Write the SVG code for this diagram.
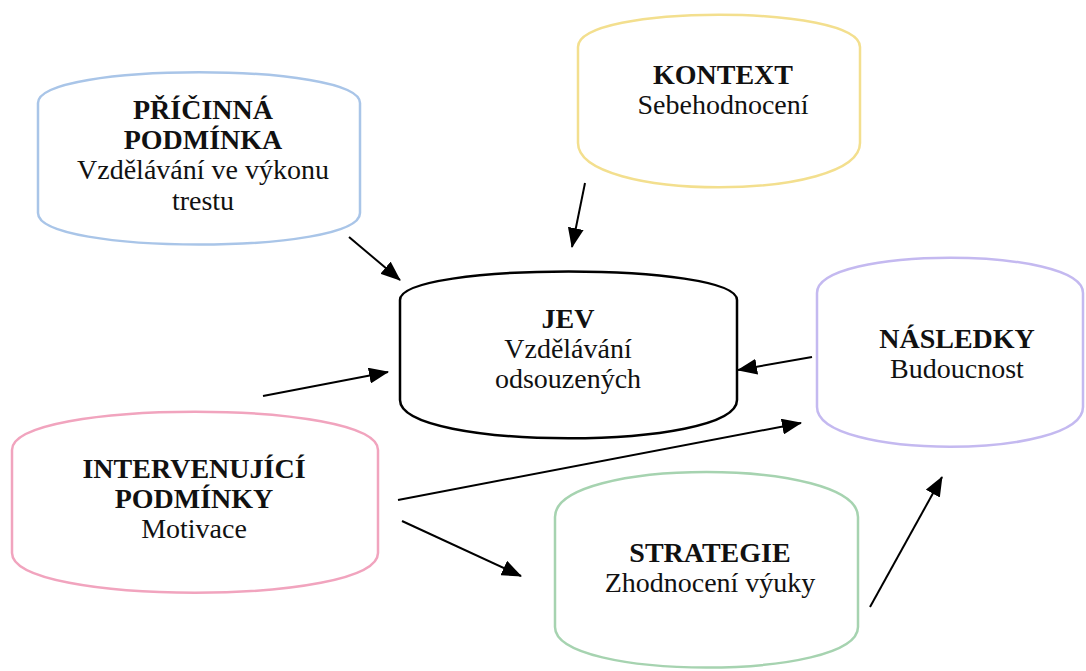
<svg xmlns="http://www.w3.org/2000/svg" width="1086" height="671" viewBox="0 0 1086 671">
<defs>
<marker id="ah" viewBox="0 0 20 16" refX="19" refY="8" markerWidth="20" markerHeight="16" markerUnits="userSpaceOnUse" orient="auto">
<path d="M0,0 L20,8 L0,16 Z" fill="#000"/>
</marker>
<style>
.n{fill:#fff;stroke-width:2.5}
.t{font-family:"Liberation Serif","Times New Roman",serif;font-size:28px;fill:#111;text-anchor:middle}
.b{font-weight:bold}
.c line{stroke:#000;stroke-width:2}
</style>
</defs>
<rect width="1086" height="671" fill="#fff"/>
<g id="pricinna">
<path class="n" stroke="#a9c5e8" d="M38,103 C38,62 360,62 360,103 L360,213 C360,255 38,255 38,213 Z"/>
<text class="t b" x="203" y="119">PŘÍČINNÁ</text>
<text class="t b" x="203" y="149">PODMÍNKA</text>
<text class="t" x="203" y="179">Vzdělávání ve výkonu</text>
<text class="t" x="203" y="210">trestu</text>
</g>
<g id="kontext">
<path class="n" stroke="#f3df8e" d="M578,47 C578,4 860,4 860,47 L860,143 C860,202 578,202 578,143 Z"/>
<text class="t b" x="723" y="84">KONTEXT</text>
<text class="t" x="723" y="114">Sebehodnocení</text>
</g>
<g id="jev">
<path class="n" stroke="#000" stroke-width="3" d="M400,300 C400,262 737,262 737,300 L737,400 C737,451 400,451 400,400 Z"/>
<text class="t b" x="568" y="328">JEV</text>
<text class="t" x="568" y="358">Vzdělávání</text>
<text class="t" x="568" y="388">odsouzených</text>
</g>
<g id="nasledky">
<path class="n" stroke="#c4b9f0" d="M817,293 C817,246 1083,246 1083,293 L1083,407 C1083,460 817,460 817,407 Z"/>
<text class="t b" x="957" y="348">NÁSLEDKY</text>
<text class="t" x="957" y="378">Budoucnost</text>
</g>
<g id="intervenujici">
<path class="n" stroke="#f1a4be" d="M12,450 C12,399 378,399 378,450 L378,553 C378,606 12,606 12,553 Z"/>
<text class="t b" x="194" y="478">INTERVENUJÍCÍ</text>
<text class="t b" x="194" y="508">PODMÍNKY</text>
<text class="t" x="194" y="538">Motivace</text>
</g>
<g id="strategie">
<path class="n" stroke="#a6d3b0" d="M555,517 C555,457 858,457 858,517 L858,627 C858,681 555,681 555,627 Z"/>
<text class="t b" x="710" y="562">STRATEGIE</text>
<text class="t" x="710" y="592">Zhodnocení výuky</text>
</g>
<g id="connectors" class="c">
<line x1="349" y1="237" x2="400" y2="280" marker-end="url(#ah)"/>
<line x1="585" y1="183" x2="572" y2="247" marker-end="url(#ah)"/>
<line x1="263" y1="396" x2="388" y2="372" marker-end="url(#ah)"/>
<line x1="812" y1="357" x2="738" y2="370" marker-end="url(#ah)"/>
<line x1="398" y1="500" x2="801" y2="423" marker-end="url(#ah)"/>
<line x1="402" y1="521" x2="521" y2="576" marker-end="url(#ah)"/>
<line x1="870" y1="607" x2="942" y2="477" marker-end="url(#ah)"/>
</g>
</svg>
